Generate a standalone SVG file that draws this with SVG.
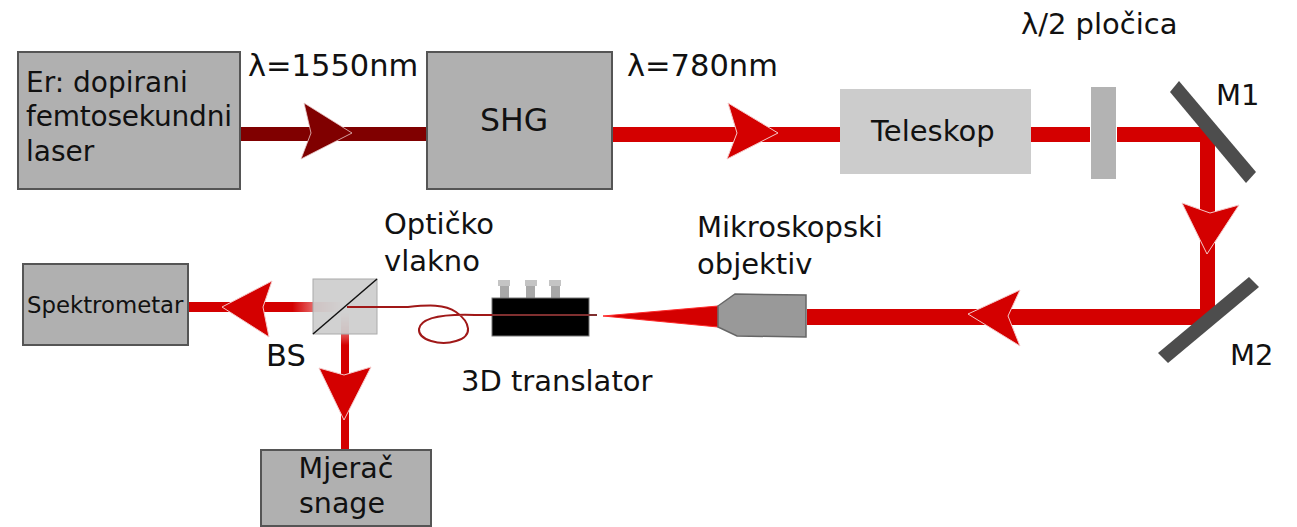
<svg xmlns="http://www.w3.org/2000/svg" width="1297" height="527" viewBox="0 0 1297 527">
<style>
text{font-family:"DejaVu Sans",Verdana,sans-serif;fill:#111;font-size:29px}
.box{fill:#b0b0b0;stroke:#555;stroke-width:2}
.arrow{fill:#d40000;stroke:#f4c8c8;stroke-width:1}
.beam{fill:#d40000}
.mirror{fill:#4d4d4d}
.screw{fill:#a8a8a8}
.cap{fill:#c4c4c4}
.big{font-size:30.5px}
.lsr{font-size:28px}
</style>
<defs>
<linearGradient id="fadeL" x1="0" x2="1" y1="0" y2="0"><stop offset="0" stop-color="#d40000"/><stop offset="0.67" stop-color="#d40000"/><stop offset="1" stop-color="#d40000" stop-opacity="0"/></linearGradient>
<linearGradient id="fadeD" x1="0" x2="0" y1="1" y2="0"><stop offset="0" stop-color="#d40000"/><stop offset="0.76" stop-color="#d40000"/><stop offset="1" stop-color="#d40000" stop-opacity="0"/></linearGradient>
</defs>
<g id="connectors">
<rect x="240" y="127" width="186" height="14" fill="#800000"/>
<polygon points="304,103 352,133 301,159 311,133" fill="#800000" stroke="#e8c8c8" stroke-width="0.8"/>
<rect class="beam" x="612" y="127" width="228" height="15"/>
<polygon class="arrow" points="728,103 778,133 727,159 737,133"/>
<rect class="beam" x="1031" y="127" width="59" height="15"/>
<path class="beam" d="M1117,127 H1215 V316 L1206,325 H807 V309 H1200 V142 H1117 Z"/>
<polygon class="arrow" points="1182,203 1210,213 1239,205 1207,254"/>
<polygon class="arrow" points="968,314 1020,290 1008,316 1020,346"/>
<polygon points="603,316 718,306 718,327" fill="#d40000" stroke="#ff2a2a" stroke-width="1"/>
<rect x="188" y="302" width="156" height="10" fill="url(#fadeL)"/>
<polygon class="arrow" points="222,307 272,281 263,307 269,337"/>
<rect x="341" y="312" width="8" height="138" fill="url(#fadeD)"/>
<polygon class="arrow" points="319,368 344,375 371,367 344,420"/>
</g>
<g id="laser"><rect class="box" x="18" y="52" width="222" height="137"/>
<text class="lsr" x="26" y="92">Er: dopirani</text><text class="lsr" x="26" y="126" textLength="206">femtosekundni</text><text class="lsr" x="26" y="161">laser</text></g>
<g id="shg"><rect class="box" x="427" y="52" width="185" height="137"/><text x="480" y="131" style="font-size:31.5px">SHG</text></g>
<g id="teleskop"><rect x="840" y="89" width="191" height="85" fill="#ccc"/><text x="871" y="141">Teleskop</text></g>
<g id="plate"><rect x="1091" y="87" width="25" height="92" fill="#b3b3b3"/></g>
<g id="m1"><polygon class="mirror" points="1170,92 1179,81 1256,172 1246,183"/><text x="1216" y="105">M1</text></g>
<g id="m2"><polygon class="mirror" points="1249,277 1259,287 1168,363 1158,353"/><text x="1230" y="365">M2</text></g>
<g id="objective"><polygon points="718,306 735,294 806,295 806,337 737,336 718,327" fill="#999" stroke="#666" stroke-width="1.5"/></g>
<g id="translator">
<rect class="screw" x="500" y="286" width="9" height="12"/><rect class="cap" x="498" y="280" width="12" height="6"/>
<rect class="screw" x="526" y="286" width="9" height="12"/><rect class="cap" x="525" y="280" width="12" height="6"/>
<rect class="screw" x="551" y="286" width="9" height="12"/><rect class="cap" x="549" y="280" width="12" height="6"/>
<rect x="492" y="298" width="97" height="38" fill="#000" stroke="#777" stroke-width="1"/></g>
<g id="bs"><rect x="313" y="279" width="64" height="55" fill="#ccc" fill-opacity="0.9" stroke="#aaa" stroke-width="1"/><line x1="313" y1="334" x2="377" y2="279" stroke="#111" stroke-width="1.5"/></g>
<g id="fibre"><path d="M347,307 H408 C428,305 445,304 456,312 C470,322 474,336 456,341 C440,346 418,340 419,329 C421,317 445,314 475,315 H492" fill="none" stroke="#a01818" stroke-width="2"/><line x1="492" y1="315" x2="597" y2="315" stroke="#803030" stroke-width="1.8"/></g>
<g id="spektrometar"><rect class="box" x="23" y="264" width="165" height="81"/><text x="27" y="313" style="font-size:22.8px">Spektrometar</text></g>
<g id="mjerac"><rect class="box" x="261" y="450" width="170" height="76"/><text x="346" y="478" text-anchor="middle" style="font-size:28.5px">Mjerač</text><text x="342" y="513" text-anchor="middle" style="font-size:28.5px">snage</text></g>
<g id="labels">
<text class="big" x="248" y="76">λ=1550nm</text>
<text class="big" x="627" y="76">λ=780nm</text>
<text x="1021" y="34">λ/2 pločica</text>
<text x="384" y="234">Optičko</text><text x="384" y="271">vlakno</text>
<text x="697" y="237">Mikroskopski</text><text x="697" y="274">objektiv</text>
<text class="big" x="266" y="366">BS</text>
<text x="461" y="391">3D translator</text>
</g>
</svg>
